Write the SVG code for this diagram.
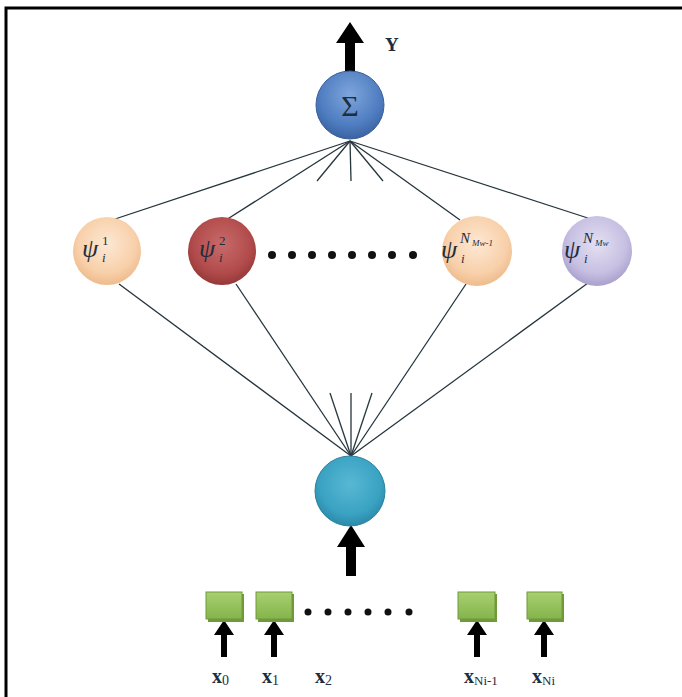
<svg xmlns="http://www.w3.org/2000/svg" width="682" height="697" viewBox="0 0 682 697">
<style>
.ln{stroke:#25353c;stroke-width:1.3;fill:none}
.lbl{font-family:"Liberation Serif",serif;fill:#1e2e3e}
.psi{font-family:"Liberation Serif",serif;font-style:italic;fill:#1e2e3e}
.up{font-family:"Liberation Serif",serif;fill:#1e2e3e}
.dot{fill:#111}
.box{stroke:#6f9a3a;stroke-width:1}
</style>
<defs>
<radialGradient id="gBlue" cx="0.5" cy="0.35" r="0.65"><stop offset="0" stop-color="#7ea6dc"/><stop offset="0.7" stop-color="#4e7cc0"/><stop offset="1" stop-color="#3a62a0"/></radialGradient>
<radialGradient id="gPeach" cx="0.5" cy="0.4" r="0.6"><stop offset="0" stop-color="#fde8d4"/><stop offset="0.7" stop-color="#f8d0aa"/><stop offset="1" stop-color="#eebb8c"/></radialGradient>
<radialGradient id="gRed" cx="0.5" cy="0.4" r="0.6"><stop offset="0" stop-color="#c86a6a"/><stop offset="0.7" stop-color="#b24c4c"/><stop offset="1" stop-color="#963838"/></radialGradient>
<radialGradient id="gLav" cx="0.5" cy="0.4" r="0.6"><stop offset="0" stop-color="#e4e0f2"/><stop offset="0.7" stop-color="#c6bfe2"/><stop offset="1" stop-color="#a9a0cc"/></radialGradient>
<radialGradient id="gTeal" cx="0.5" cy="0.4" r="0.62"><stop offset="0" stop-color="#58b8d4"/><stop offset="0.7" stop-color="#3aa2c2"/><stop offset="1" stop-color="#2a86a6"/></radialGradient>
<linearGradient id="gGreen" x1="0" y1="0" x2="0" y2="1"><stop offset="0" stop-color="#a8d070"/><stop offset="1" stop-color="#84b44c"/></linearGradient>
</defs>
<rect width="682" height="697" fill="#fff"/>
<path d="M6 697 V8 H682" fill="none" stroke="#000" stroke-width="3"/>

<g id="connectors">
<line class="ln" x1="350" y1="141" x2="106" y2="222"/>
<line class="ln" x1="350" y1="141" x2="226" y2="220"/>
<line class="ln" x1="350" y1="141" x2="317" y2="181"/>
<line class="ln" x1="350" y1="141" x2="351" y2="181"/>
<line class="ln" x1="350" y1="141" x2="383" y2="181"/>
<line class="ln" x1="350" y1="141" x2="460" y2="220"/>
<line class="ln" x1="350" y1="141" x2="597" y2="221"/>
<line class="ln" x1="351" y1="456" x2="119" y2="284"/>
<line class="ln" x1="351" y1="456" x2="236" y2="284"/>
<line class="ln" x1="351" y1="456" x2="330" y2="393"/>
<line class="ln" x1="351" y1="456" x2="351" y2="393"/>
<line class="ln" x1="351" y1="456" x2="372" y2="393"/>
<line class="ln" x1="351" y1="456" x2="466" y2="284"/>
<line class="ln" x1="351" y1="456" x2="588" y2="283"/>
<polygon points="350,22 336,43 345,43 345,82 355,82 355,43 364,43" fill="#000"/>
<polygon points="351,525 337,547 346,547 346,576 356,576 356,547 365,547" fill="#000"/>
<polygon points="224,620 214,635 221,635 221,657 227,657 227,635 234,635" fill="#000"/>
<polygon points="274,620 264,635 271,635 271,657 277,657 277,635 284,635" fill="#000"/>
<polygon points="477,620 467,635 474,635 474,657 480,657 480,635 487,635" fill="#000"/>
<polygon points="544,620 534,635 541,635 541,657 547,657 547,635 554,635" fill="#000"/>
</g>

<text class="lbl" x="385" y="51" font-size="19" font-weight="bold">Y</text>

<g id="sum">
<circle cx="350" cy="105" r="34" fill="url(#gBlue)" stroke="#3a5f99" stroke-width="1"/>
<text class="lbl" x="350" y="116" font-size="30" text-anchor="middle" fill="#1a2a40">Σ</text>
</g>

<g id="psi1">
<circle cx="107" cy="251" r="34" fill="url(#gPeach)"/>
<text class="psi" x="82" y="257" font-size="26">ψ</text>
<text class="up" x="102" y="245" font-size="13">1</text>
<text class="psi" x="102" y="262" font-size="13">i</text>
</g>
<g id="psi2">
<circle cx="222" cy="251" r="34" fill="url(#gRed)"/>
<text class="psi" x="199" y="257" font-size="26">ψ</text>
<text class="up" x="219" y="245" font-size="13">2</text>
<text class="psi" x="219" y="262" font-size="13">i</text>
</g>
<g id="psiN1">
<circle cx="477" cy="251" r="35" fill="url(#gPeach)"/>
<text class="psi" x="441" y="258" font-size="26">ψ</text>
<text class="psi" x="460" y="243" font-size="15">N</text>
<text class="psi" x="472" y="246" font-size="9">Mw-1</text>
<text class="psi" x="461" y="263" font-size="13">i</text>
</g>
<g id="psiN">
<circle cx="597" cy="251" r="35" fill="url(#gLav)"/>
<text class="psi" x="564" y="258" font-size="26">ψ</text>
<text class="psi" x="583" y="243" font-size="15">N</text>
<text class="psi" x="595" y="246" font-size="9">Mw</text>
<text class="psi" x="584" y="263" font-size="13">i</text>
</g>

<g id="dots1">
<circle class="dot" cx="272" cy="255" r="4"/>
<circle class="dot" cx="292" cy="255" r="4"/>
<circle class="dot" cx="312" cy="255" r="4"/>
<circle class="dot" cx="332" cy="255" r="4"/>
<circle class="dot" cx="352" cy="255" r="4"/>
<circle class="dot" cx="372" cy="255" r="4"/>
<circle class="dot" cx="392" cy="255" r="4"/>
<circle class="dot" cx="413" cy="255" r="4"/>
</g>

<g id="hidden">
<circle cx="350" cy="491" r="35" fill="url(#gTeal)" stroke="#2a809e" stroke-width="1"/>
</g>

<g id="in0"><rect x="208" y="594" width="36" height="28" fill="#6f9a3a"/><rect class="box" x="206" y="592" width="36" height="27" fill="url(#gGreen)"/></g>
<g id="in1"><rect x="258" y="594" width="36" height="28" fill="#6f9a3a"/><rect class="box" x="256" y="592" width="36" height="27" fill="url(#gGreen)"/></g>
<g id="inN1"><rect x="460" y="594" width="37" height="28" fill="#6f9a3a"/><rect class="box" x="458" y="592" width="37" height="27" fill="url(#gGreen)"/></g>
<g id="inN"><rect x="529" y="594" width="35" height="28" fill="#6f9a3a"/><rect class="box" x="527" y="592" width="35" height="27" fill="url(#gGreen)"/></g>

<g id="dots2">
<circle class="dot" cx="308" cy="612" r="3.5"/>
<circle class="dot" cx="328" cy="612" r="3.5"/>
<circle class="dot" cx="348" cy="612" r="3.5"/>
<circle class="dot" cx="368" cy="612" r="3.5"/>
<circle class="dot" cx="388" cy="612" r="3.5"/>
<circle class="dot" cx="409" cy="612" r="3.5"/>
</g>

<g id="labels">
<text class="lbl" x="212" y="683" font-size="20" font-weight="bold">x<tspan font-size="14" font-weight="normal" dy="2">0</tspan></text>
<text class="lbl" x="262" y="683" font-size="20" font-weight="bold">x<tspan font-size="14" font-weight="normal" dy="2">1</tspan></text>
<text class="lbl" x="315" y="683" font-size="20" font-weight="bold">x<tspan font-size="14" font-weight="normal" dy="2">2</tspan></text>
<text class="lbl" x="464" y="683" font-size="20" font-weight="bold">x<tspan font-size="13" font-weight="normal" dy="2">Ni-1</tspan></text>
<text class="lbl" x="532" y="683" font-size="20" font-weight="bold">x<tspan font-size="13" font-weight="normal" dy="2">Ni</tspan></text>
</g>
</svg>
